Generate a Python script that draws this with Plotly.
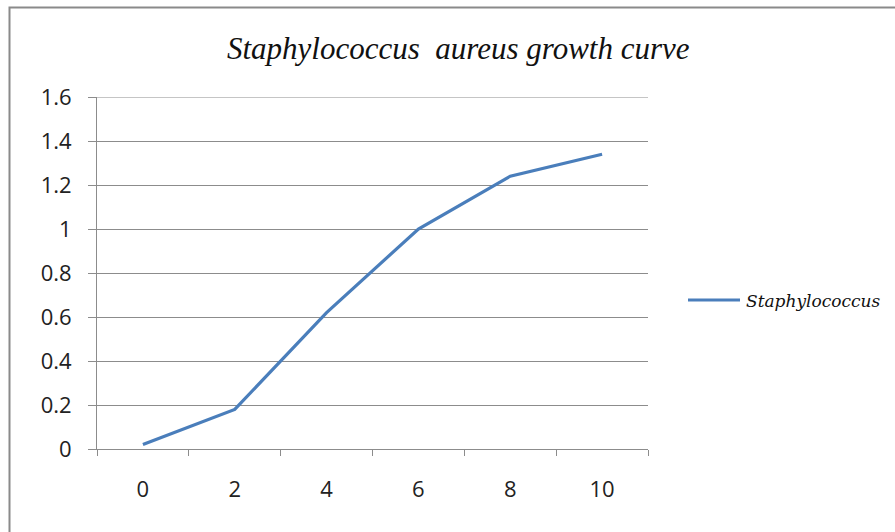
import plotly.graph_objects as go

# Growth of Staphylococcus aureus over time
hours = ["0", "2", "4", "6", "8", "10"]
optical_density = [0.02, 0.18, 0.62, 1.0, 1.24, 1.34]
series_name = "Staphylococcus"
y_ticks = [0, 0.2, 0.4, 0.6, 0.8, 1.0, 1.2, 1.4, 1.6]
y_tick_text = ["0", "0.2", "0.4", "0.6", "0.8", "1", "1.2", "1.4", "1.6"]

line_color = "#4A7EBB"
grid = "#8c8c8c"
tick_font = dict(family="Open Sans, Liberation Sans, sans-serif", size=22, color="#222222")

fig = go.Figure()
fig.add_trace(go.Scatter(
    x=hours, y=optical_density, mode="lines", name=series_name,
    line=dict(color=line_color, width=3.2), showlegend=False,
))

# plot area spans 551 px horizontally and 352 px vertically
def px_x(p):
    return (p - 97) / 551

def px_y(p):
    return (449 - p) / 352

fig.update_layout(
    width=895, height=532,
    margin=dict(l=97, r=247, t=97, b=83),
    paper_bgcolor="white", plot_bgcolor="white",
    title=dict(
        text="<i>Staphylococcus  aureus growth curve</i>",
        x=0.512, xanchor="center", y=0.91, yanchor="middle",
        font=dict(family="Liberation Serif, serif", size=31, color="#111111"),
    ),
    showlegend=False,
    xaxis=dict(
        type="category", tickson="boundaries", range=[-0.5, len(hours) - 0.5],
        showline=True, linecolor=grid, linewidth=1,
        ticks="outside", ticklen=6, tickcolor=grid,
        showgrid=False, tickfont=tick_font, ticklabelstandoff=21,
    ),
    yaxis=dict(
        range=[0, 1.6], tickvals=y_ticks, ticktext=y_tick_text,
        showline=True, linecolor=grid, linewidth=1,
        ticks="outside", ticklen=8, tickcolor=grid,
        showgrid=True, gridcolor=grid, gridwidth=1,
        zeroline=False, tickfont=tick_font, ticklabelstandoff=12,
    ),
    shapes=[
        # chart frame
        dict(type="rect", xref="paper", yref="paper",
             x0=px_x(9.5), x1=1.46, y0=-0.26, y1=px_y(7.5),
             line=dict(color="#8a8a8a", width=2), fillcolor="rgba(0,0,0,0)",
             layer="below"),
        # top gridline at the range edge
        dict(type="line", xref="paper", yref="y",
             x0=0, x1=1, y0=y_ticks[-1], y1=y_ticks[-1],
             line=dict(color=grid, width=1)),
        # legend key
        dict(type="line", xref="paper", yref="paper",
             x0=px_x(688), x1=px_x(740), y0=px_y(300), y1=px_y(300),
             line=dict(color=line_color, width=3)),
    ],
    annotations=[dict(
        text=series_name, xref="paper", yref="paper",
        x=px_x(744), y=px_y(301), xanchor="left", yanchor="middle",
        showarrow=False,
        font=dict(family="DejaVu Serif, serif", size=17, color="#111111", style="italic"),
    )],
)

fig.write_html("out.html")
